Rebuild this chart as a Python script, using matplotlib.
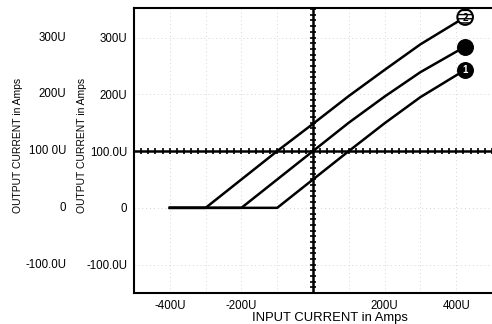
import numpy as np
import matplotlib.pyplot as plt
from matplotlib.transforms import blended_transform_factory

plt.rcParams['font.family'] = ['Liberation Sans', 'DejaVu Sans']

# input current (uA) breakpoints and output current for the three curves
x_pts = [-400, -300, -200, -100, 0, 100, 200, 300, 425]
out_2 = [0, 0, 50, 100, 148, 197, 243, 288, 336]
out_mid = [0, 0, 0, 50, 100, 150, 196, 239, 284]
out_1 = [0, 0, 0, 0, 50, 100, 149, 195, 243]

xticks = [-400, -200, 200, 400]
xtick_labels = ["-400U", "-200U", "200U", "400U"]
yticks = [-100, 0, 100, 200, 300]
ytick_labels = ["-100.0U", "0", "100.0U", "200U", "300U"]
ytick_labels_outer = ["-100.0U", "0", "100 0U", "200U", "300U"]

fig = plt.figure(figsize=(4.92, 3.24), dpi=100)
ax = fig.add_axes([0.2724, 0.0957, 0.7276, 0.8796])
ax.set_xlim(-500, 500)
ax.set_ylim(-150, 352)

# faint dotted grid
for gx in [-400, -300, -200, -100, 100, 200, 300, 400]:
    ax.axvline(gx, color="#d4d4d4", ls=(0, (1, 3)), lw=0.7, zorder=0)
for gy in [-100, 0, 200, 300]:
    ax.axhline(gy, color="#d4d4d4", ls=(0, (1, 3)), lw=0.7, zorder=0)

# crosshair with tick marks
ax.axvline(0, color="black", lw=1.8, zorder=2)
ax.axhline(100, color="black", lw=1.8, zorder=2)
hx = np.arange(-500, 501, 20)
ax.plot(hx, np.full(hx.shape, 100), ls="none", marker="|", ms=4.5, mew=1.2, color="black", zorder=2)
vy = np.arange(-150, 352, 10)
ax.plot(np.zeros(vy.shape), vy, ls="none", marker="_", ms=4.5, mew=1.2, color="black", zorder=2)

# the three transfer curves
for ys in (out_2, out_mid, out_1):
    ax.plot(x_pts, ys, color="black", lw=1.8, solid_joinstyle="round", zorder=3)

# end markers
ax.scatter([x_pts[-1]], [out_2[-1]], s=125, facecolor="white", edgecolor="black",
           linewidth=1.5, hatch="----", zorder=4)
ax.text(x_pts[-1], out_2[-1] - 2, "2", ha="center", va="center", fontsize=7,
        fontweight="bold", color="black", zorder=5)
ax.scatter([x_pts[-1]], [out_mid[-1]], s=125, facecolor="black", edgecolor="black", zorder=4)
ax.scatter([x_pts[-1]], [out_1[-1]], s=125, facecolor="black", edgecolor="black", zorder=4)
ax.text(x_pts[-1], out_1[-1] - 1, "1", ha="center", va="center", fontsize=7,
        fontweight="bold", color="white", zorder=5)

# spines and ticks
ax.spines["right"].set_visible(False)
for side in ("left", "bottom", "top"):
    ax.spines[side].set_linewidth(1.5)
ax.set_xticks(xticks)
ax.set_xticklabels(xtick_labels, fontsize=8.3)
ax.set_yticks(yticks)
ax.set_yticklabels(ytick_labels, fontsize=8.3)
ax.tick_params(length=0, pad=5)
ax.set_xlabel("INPUT CURRENT in Amps", fontsize=9.4, va="center")
ax.xaxis.set_label_coords(0.547, -0.087)

# outer copy of the y scale
tr = blended_transform_factory(fig.transFigure, ax.transData)
for yv, lab in zip(yticks, ytick_labels_outer):
    ax.text(66 / 492, yv, lab, transform=tr, ha="right", va="center", fontsize=8.3)
fig.text(18 / 492, 0.55, "OUTPUT CURRENT in Amps", rotation=90, ha="center", va="center", fontsize=7.5)
fig.text(82 / 492, 0.55, "OUTPUT CURRENT in Amps", rotation=90, ha="center", va="center", fontsize=7.5)

fig.savefig("out.png", dpi=100)
